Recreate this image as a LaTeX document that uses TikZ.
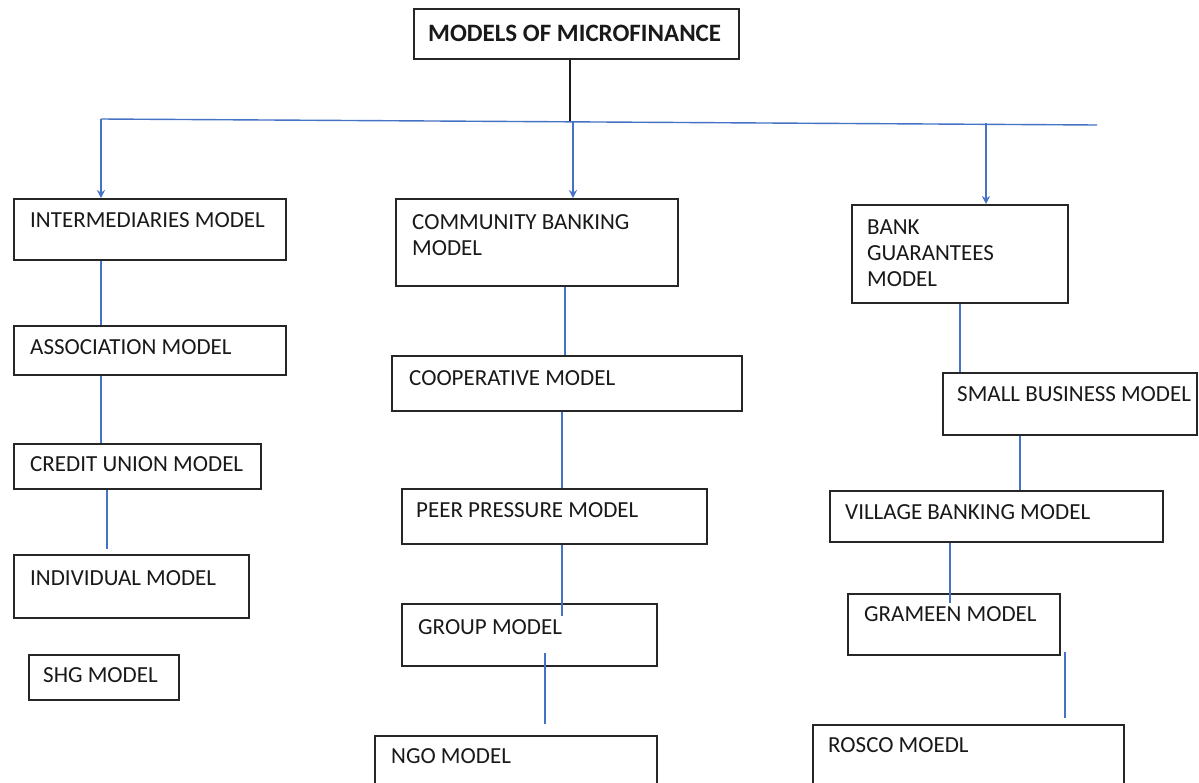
\documentclass[tikz,border=0pt]{standalone}
\usepackage{fontspec}
\setmainfont{Carlito}
\usetikzlibrary{arrows.meta}
\definecolor{lineblue}{RGB}{68,114,196}
\begin{document}
\begin{tikzpicture}[x=1pt,y=-1pt,
  box/.style={draw=black!85, line width=1.6pt, inner sep=0pt, anchor=north west},
  lbl/.style={inner sep=0pt, anchor=north west, align=left, text=black!90, font=\fontsize{23}{26}\selectfont},
  ttl/.style={lbl, font=\fontsize{25}{28}\selectfont\bfseries},
  bl/.style={draw=lineblue, line width=1.4pt},
  arr/.style={bl, -{Stealth[length=8pt,width=8pt]}},
  blk/.style={draw=black!90, line width=1.4pt}]
\clip (0,0) rectangle (1199,782);
\fill[white] (0,0) rectangle (1199,782);
% boxes
\node[box, minimum width=325pt, minimum height=50pt] (title) at (413,8) {};
\node[box, minimum width=272pt, minimum height=61pt] (int) at (13,198) {};
\node[box, minimum width=282pt, minimum height=87pt] (cb) at (395,198) {};
\node[box, minimum width=216pt, minimum height=98pt] (bg) at (851,204) {};
\node[box, minimum width=272pt, minimum height=49pt] (as) at (13,325) {};
\node[box, minimum width=247pt, minimum height=45pt] (cu) at (13,443) {};
\node[box, minimum width=235pt, minimum height=63pt] (ind) at (13,554) {};
\node[box, minimum width=150pt, minimum height=45pt] (shg) at (28,654) {};
\node[box, minimum width=350pt, minimum height=55pt] (coop) at (391,355) {};
\node[box, minimum width=305pt, minimum height=55pt] (peer) at (401,488) {};
\node[box, minimum width=255pt, minimum height=62pt] (grp) at (401,603) {};
\node[box, minimum width=282pt, minimum height=70pt] (ngo) at (374,735) {};
\node[box, minimum width=254pt, minimum height=62pt] (sb) at (942,372) {};
\node[box, minimum width=333pt, minimum height=51pt] (vb) at (829,490) {};
\node[box, minimum width=212pt, minimum height=61pt] (gr) at (847,593) {};
\node[box, minimum width=311pt, minimum height=80pt] (ro) at (812,724) {};
% labels
\node[ttl] (ttitle) at (428,25) {MODELS OF MICROFINANCE};
\node[lbl] (tint) at (30,212) {INTERMEDIARIES MODEL};
\node[lbl] (tcb) at (412,214) {COMMUNITY BANKING\\MODEL};
\node[lbl] (tbg) at (867,220) {BANK\\GUARANTEES\\MODEL};
\node[lbl] (tas) at (30,339) {ASSOCIATION MODEL};
\node[lbl] (tcu) at (30,456) {CREDIT UNION MODEL};
\node[lbl] (tind) at (30,570) {INDIVIDUAL MODEL};
\node[lbl] (tshg) at (43,667) {SHG MODEL};
\node[lbl] (tcoop) at (409,370) {COOPERATIVE MODEL};
\node[lbl] (tpeer) at (416,502) {PEER PRESSURE MODEL};
\node[lbl] (tgrp) at (418,619) {GROUP MODEL};
\node[lbl] (tngo) at (391,748) {NGO MODEL};
\node[lbl] (tsb) at (957,386) {SMALL BUSINESS MODEL};
\node[lbl] (tvb) at (845,504) {VILLAGE BANKING MODEL};
\node[lbl] (tgr) at (864,606) {GRAMEEN MODEL};
\node[lbl] (tro) at (828,737) {ROSCO MOEDL};
% coordinates
\coordinate (tj) at (570,121);
\coordinate (hl) at (101,119);
\coordinate (hm) at (573,121);
\coordinate (hr) at (986,123);
\coordinate (he) at (1097,125);
\coordinate (xa) at (101,0);
\coordinate (xb) at (107,0);
\coordinate (cuend) at (107,549);
\coordinate (xc) at (565,0);
\coordinate (xd) at (562,0);
\coordinate (peerend) at (562,616);
\coordinate (gs) at (545,653);
\coordinate (ge) at (545,724);
\coordinate (xe) at (960,0);
\coordinate (xf) at (1020,0);
\coordinate (xg) at (950,0);
\coordinate (vbend) at (950,603);
\coordinate (rs) at (1065,652);
\coordinate (re) at (1065,718);
% connectors
\draw[blk] (title.south -| tj) -- (tj);
\draw[bl] (hl) -- (he);
\draw[arr] (hl) -- (int.north -| hl);
\draw[arr] (hm) -- (cb.north -| hm);
\draw[arr] (hr) -- (bg.north -| hr);
\draw[bl] (int.south -| xa) -- (as.north -| xa);
\draw[bl] (as.south -| xa) -- (cu.north -| xa);
\draw[bl] (cu.south -| xb) -- (cuend);
\draw[bl] (cb.south -| xc) -- (coop.north -| xc);
\draw[bl] (coop.south -| xd) -- (peer.north -| xd);
\draw[bl] (peer.south -| xd) -- (peerend);
\draw[bl] (gs) -- (ge);
\draw[bl] (bg.south -| xe) -- (sb.north -| xe);
\draw[bl] (sb.south -| xf) -- (vb.north -| xf);
\draw[bl] (vb.south -| xg) -- (vbend);
\draw[bl] (rs) -- (re);
\end{tikzpicture}
\end{document}
